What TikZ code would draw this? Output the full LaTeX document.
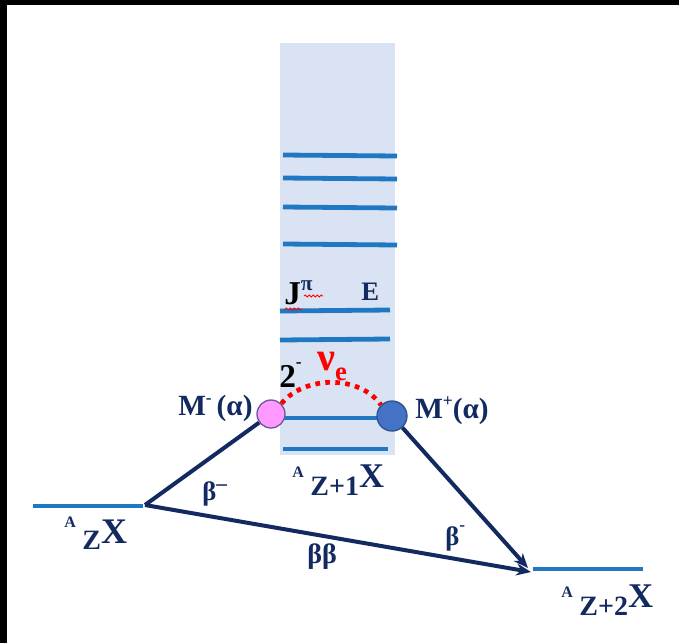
\documentclass[tikz,border=0pt]{standalone}
\usepackage{fontspec}
\setmainfont{Liberation Serif}
\usetikzlibrary{arrows.meta,decorations.pathmorphing}
\definecolor{navy}{HTML}{132A60}
\definecolor{lvl}{HTML}{1F78C1}
\definecolor{colbg}{HTML}{DAE3F3}
\definecolor{pinkc}{HTML}{FF99FF}
\definecolor{bluec}{HTML}{4472C4}
\definecolor{bluedge}{HTML}{2F528F}
\definecolor{pinkedge}{HTML}{6A5A9A}
\newcommand{\fsz}[1]{\fontsize{#1}{#1}\selectfont}
\begin{document}
\begin{tikzpicture}[x=0.75pt,y=-0.75pt,
  levelline/.style={draw=lvl,line width=3.6pt},
  conn/.style={draw=navy,line width=3pt},
  arrowconn/.style={conn,-{Stealth[length=11pt,width=9pt]}},
  lbl/.style={text=navy,font=\bfseries,inner sep=0pt,anchor=base west},
  ball/.style={circle,inner sep=0pt,line width=1pt},
  wavy/.style={draw=red,line width=0.6pt,decorate,decoration={snake,amplitude=0.8pt,segment length=3pt}},
  reddot/.style={draw=red,line width=3.5pt,dash pattern=on 3.5pt off 4pt}]
\useasboundingbox (0,0) rectangle (679,643);
\fill[white] (0,0) rectangle (679,643);
\fill[black] (0,0) rectangle (679,5);
\fill[black] (0,0) rectangle (7,643);
% column
\fill[colbg] (280,43) rectangle (395,455);
% levels
\draw[levelline] (283,155) -- (397,156);
\draw[levelline] (283,178) -- (397,179);
\draw[levelline] (283,207) -- (397,208);
\draw[levelline] (283,244) -- (397,245);
\draw[levelline] (280,311) -- (390,310);
\draw[levelline] (280,340) -- (390,339);
\draw[levelline] (283,418) -- (386,418);
\draw[levelline] (283,449) -- (388,449);
% ground levels
\coordinate (zl) at (33,506);
\coordinate (zr) at (145,505);
\draw[levelline] (zl) -- (143,506);
\coordinate (z2l) at (533,569);
\coordinate (z2r) at (643,569);
\draw[levelline] (z2l) -- (z2r);
% balls
\node[ball,fill=pinkc,draw=pinkedge,minimum size=21pt] (pink) at (271,414) {};
\node[ball,fill=bluec,draw=bluedge,minimum size=22.5pt] (blue) at (392,416) {};
% neutrino arc
\draw[reddot] (pink.north east) .. controls (305,375) and (360,375) .. (blue.north west);
% connectors
\coordinate (tipA) at (528,568);
\coordinate (tipB) at (531,572);
\draw[conn] (zr) -- (pink);
\draw[arrowconn] (blue) -- (tipA);
\draw[arrowconn] (zr) -- (tipB);
% labels
\node[lbl,text=black] (jp) at (284,304) {\fsz{25}J\raisebox{10pt}{\fsz{16}\color{navy}π}};
\draw[wavy] (304,296) -- (323,296);
\draw[wavy] (285,309) -- (302,309);
\node[lbl] (elab) at (361,300) {\fsz{20}E};
\node[lbl,text=black] (two) at (279,387) {\fsz{25}2\raisebox{15pt}{\fsz{13}-}};
\node[lbl,text=red] (nue) at (317,370) {\fsz{30}ν\raisebox{-7.5pt}{\fsz{20}e}};
\node[lbl] (mminus) at (178,415) {\fsz{22}M\raisebox{8.5pt}{\fsz{13}-}\,(α)};
\node[lbl] (mplus) at (415,418) {\fsz{22}M\raisebox{8.5pt}{\fsz{13}+}(α)};
\node[lbl] (xz) at (64,543) {\raisebox{12pt}{\fsz{12}A}\hspace{5pt}\raisebox{-5pt}{\fsz{21}Z}\fsz{27}X};
\node[lbl] (xz1) at (292,487) {\raisebox{7.5pt}{\fsz{12}A}\hspace{5pt}\raisebox{-6pt}{\fsz{21}Z+1}\fsz{26}X};
\node[lbl] (xz2) at (561,607) {\raisebox{7.5pt}{\fsz{12}A}\hspace{5pt}\raisebox{-6pt}{\fsz{21}Z+2}\fsz{26}X};
\node[lbl] (b1) at (202,500) {\fsz{20}β\raisebox{7.5pt}{\fsz{16}–}};
\node[lbl] (b2) at (445,545) {\fsz{20}β\raisebox{11pt}{\fsz{13}-}};
\node[lbl] (bb) at (307,563) {\fsz{21}ββ};
\end{tikzpicture}
\end{document}
